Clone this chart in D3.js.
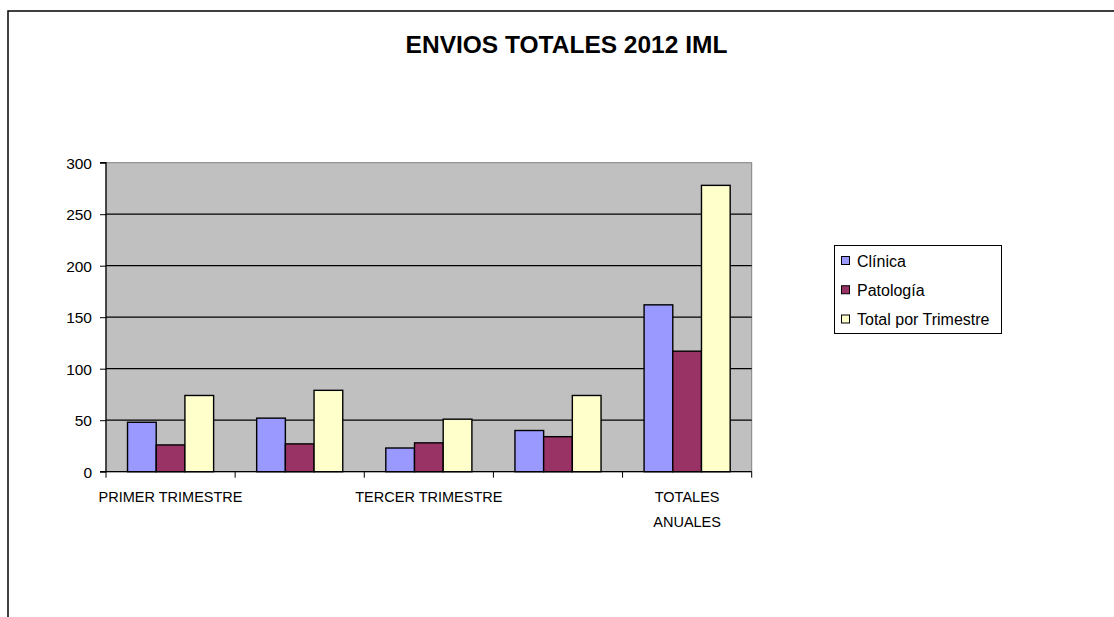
<!DOCTYPE html>
<html>
<head>
<meta charset="utf-8">
<script src="https://cdn.jsdelivr.net/npm/d3@7"></script>
<style>
  html, body { margin: 0; padding: 0; background: #fff; }
  svg { display: block; font-family: "Liberation Sans", Arial, sans-serif; }
</style>
</head>
<body>
<svg id="chart" width="1114" height="617"></svg>
<script>
const title = "ENVIOS TOTALES 2012 IML";
const categories = ["PRIMER TRIMESTRE", "SEGUNDO TRIMESTRE", "TERCER TRIMESTRE", "CUARTO TRIMESTRE", "TOTALES ANUALES"];
const shownLabels = [true, false, true, false, true];
const seriesNames = ["Clínica", "Patología", "Total por Trimestre"];
const clinica = [48, 52, 23, 40, 162];
const patologia = [26, 27, 28, 34, 117];
const totalPorTrimestre = [74, 79, 51, 74, 278];
const yTicks = [0, 50, 100, 150, 200, 250, 300];
const colors = ["#9999FF", "#993366", "#FFFFCC"];

const seriesValues = [clinica, patologia, totalPorTrimestre];

const svg = d3.select("#chart");

// outer chart frame (extends beyond view on right/bottom)
svg.append("path")
  .attr("d", "M8,700 L8,11 L1200,11")
  .attr("fill", "none").attr("stroke", "#000").attr("stroke-width", 1.5);

const plot = { left: 106, right: 751.7, top: 162.7, bottom: 471.7 };

const x = d3.scaleBand().domain(categories).range([plot.left, plot.right]).paddingInner(0).paddingOuter(0);
const xs = d3.scaleBand().domain(seriesNames).range([0, x.bandwidth()]).paddingInner(0).paddingOuter(0.75);
const y = d3.scaleLinear().domain([0, 300]).range([plot.bottom, plot.top]);

// plot background
svg.append("rect")
  .attr("x", plot.left).attr("y", plot.top)
  .attr("width", plot.right - plot.left).attr("height", plot.bottom - plot.top)
  .attr("fill", "#C0C0C0").attr("stroke", "#808080").attr("stroke-width", 1);

// gridlines
svg.append("g").selectAll("line").data(yTicks.filter(t => t > 0 && t < 300)).join("line")
  .attr("x1", plot.left).attr("x2", plot.right)
  .attr("y1", d => y(d)).attr("y2", d => y(d))
  .attr("stroke", "#000").attr("stroke-width", 1.3);

// bars
const groups = svg.append("g").selectAll("g").data(seriesNames).join("g")
  .attr("fill", (d, i) => colors[i]);
groups.selectAll("rect").data((s, si) => categories.map((c, ci) => ({ s, c, v: seriesValues[si][ci] }))).join("rect")
  .attr("x", d => x(d.c) + xs(d.s))
  .attr("y", d => y(d.v))
  .attr("width", xs.bandwidth())
  .attr("height", d => y(0) - y(d.v))
  .attr("stroke", "#000").attr("stroke-width", 1.4);

// y axis
const yAxis = d3.axisLeft(y).tickValues(yTicks).tickSize(6).tickPadding(8).tickFormat(d3.format("d"));
const gy = svg.append("g").attr("transform", `translate(${plot.left},0)`).call(yAxis);
gy.select(".domain").attr("stroke", "#000").attr("stroke-width", 1.2).attr("d", `M-6,${plot.top}H0V${plot.bottom}H-6`);
gy.selectAll(".tick line").attr("stroke", "#000");
gy.selectAll(".tick text").attr("font-size", "15.5px").attr("fill", "#000")
  .attr("font-family", "'Liberation Sans', Arial, sans-serif").attr("dy", "0.36em");

// x axis
const xAxis = d3.axisBottom(x).tickSize(0).tickFormat("");
const gx = svg.append("g").attr("transform", `translate(0,${plot.bottom})`).call(xAxis);
gx.select(".domain").attr("stroke", "#000").attr("stroke-width", 1.2).attr("d", `M${plot.left},0H${plot.right}`);
const boundaries = categories.map(c => x(c)).concat([x(categories[categories.length - 1]) + x.bandwidth()]);
gx.selectAll(".bticks").data(boundaries).join("line")
  .attr("x1", d => d).attr("x2", d => d).attr("y1", 0).attr("y2", 6)
  .attr("stroke", "#000");

// category labels
const labelG = svg.append("g").attr("font-size", "14.5px").attr("fill", "#000").attr("text-anchor", "middle");
categories.forEach((c, i) => {
  if (!shownLabels[i]) return;
  const cx = x(c) + x.bandwidth() / 2;
  const lines = (i === categories.length - 1) ? c.split(" ") : [c];
  const t = labelG.append("text").attr("x", cx).attr("y", plot.bottom + 30);
  lines.forEach((ln, k) => {
    t.append("tspan").attr("x", cx).attr("dy", k === 0 ? 0 : 25).text(ln);
  });
});

// title
svg.append("text")
  .attr("x", 566.5).attr("y", 53)
  .attr("text-anchor", "middle")
  .attr("font-size", "24.5px").attr("font-weight", "bold")
  .text(title);

// legend
const lg = svg.append("g");
lg.append("rect").attr("x", 834.5).attr("y", 245.5).attr("width", 167).attr("height", 88)
  .attr("fill", "#fff").attr("stroke", "#000").attr("stroke-width", 1);
const rowY = d3.scalePoint().domain(seriesNames).range([261, 319.5]);
const items = lg.selectAll("g.item").data(seriesNames).join("g").attr("class", "item")
  .attr("transform", d => `translate(0,${rowY(d)})`);
items.append("rect").attr("x", 841.5).attr("y", -4.5).attr("width", 8).attr("height", 8)
  .attr("fill", (d, i) => colors[i]).attr("stroke", "#000").attr("stroke-width", 1);
items.append("text").attr("x", 857).attr("y", 0).attr("dy", "0.36em")
  .attr("font-size", "16px").attr("fill", "#000").text(d => d);
</script>
</body>
</html>
